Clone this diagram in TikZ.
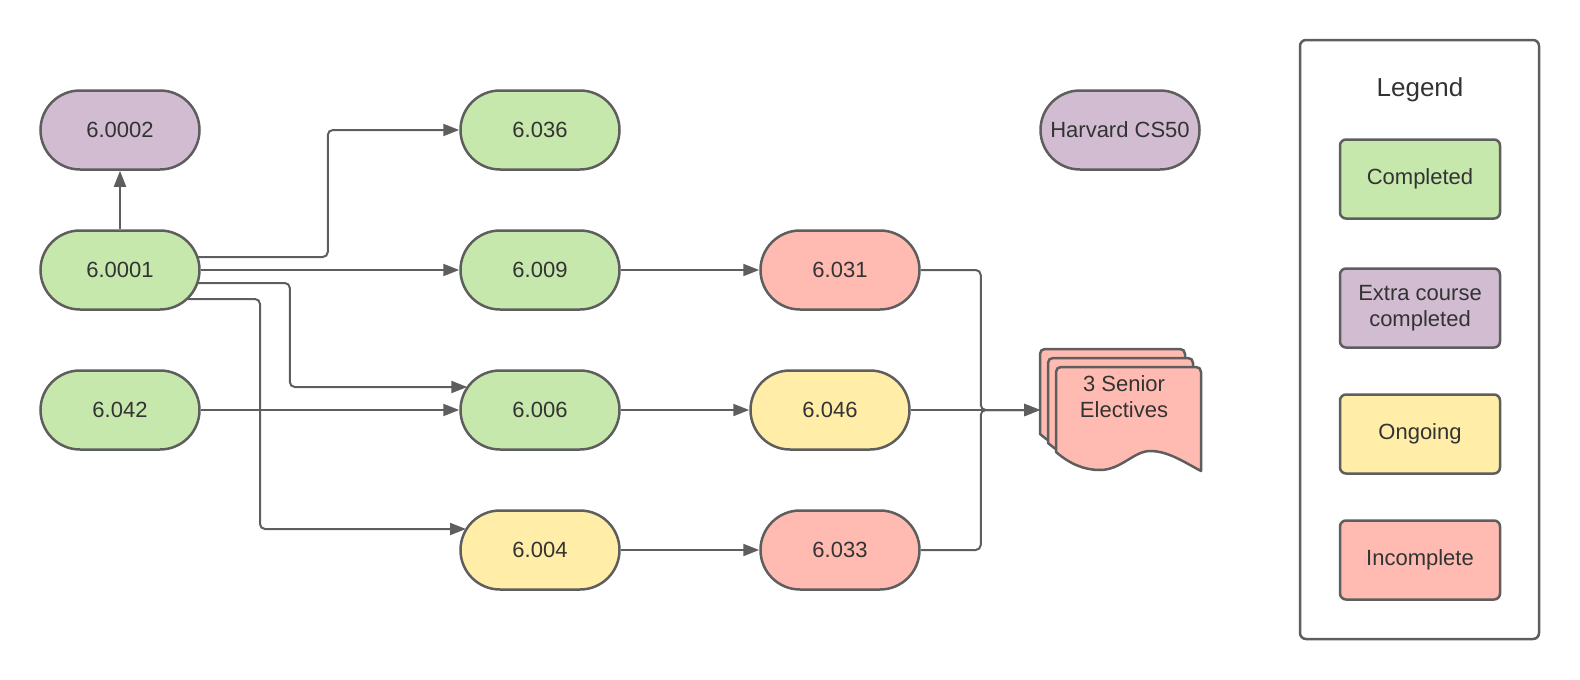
\documentclass[tikz,border=0pt]{standalone}
\usepackage{fontspec}
\setmainfont{Liberation Sans}
\usetikzlibrary{shapes.misc,arrows.meta,calc}
\definecolor{linec}{HTML}{5E5E5E}
\definecolor{txt}{HTML}{333333}
\definecolor{cgreen}{HTML}{C7E8AC}
\definecolor{cpurple}{HTML}{D1BCD2}
\definecolor{cyellow}{HTML}{FFEDA8}
\definecolor{cred}{HTML}{FFBBB1}
\newcommand\mynodefont{\fontsize{22}{26}\selectfont}
\newcommand\mytitlefont{\fontsize{26}{30}\selectfont}
\tikzset{
  course/.style={rounded rectangle, draw=linec, line width=2.5pt, minimum width=159pt, minimum height=79pt, inner sep=0pt, font=\mynodefont, text=txt},
  legbox/.style={rectangle, rounded corners=6pt, draw=linec, line width=2.5pt, minimum width=160pt, minimum height=79pt, inner sep=0pt, font=\mynodefont, text=txt, align=center},
  conn/.style={draw=linec, line width=2pt, rounded corners=5pt, -{Triangle[length=16pt,width=12pt]}},
  sheet/.style={fill=cred, draw=linec, line width=2.5pt, line join=round},
}
\begin{document}
\begin{tikzpicture}[x=1pt,y=-1pt]
\useasboundingbox (0,0) rectangle (1580,680);
% course nodes
\node[course, fill=cpurple] (n0002) at (120,130) {6.0002};
\node[course, fill=cgreen] (n0001) at (120,270) {6.0001};
\node[course, fill=cgreen] (n042) at (120,410) {6.042};
\node[course, fill=cgreen] (n036) at (540,130) {6.036};
\node[course, fill=cgreen] (n009) at (540,270) {6.009};
\node[course, fill=cgreen] (n006) at (540,410) {6.006};
\node[course, fill=cyellow] (n004) at (540,550) {6.004};
\node[course, fill=cred] (n031) at (840,270) {6.031};
\node[course, fill=cyellow] (n046) at (830,410) {6.046};
\node[course, fill=cred] (n033) at (840,550) {6.033};
\node[course, fill=cpurple] (ncs50) at (1120,130) {Harvard CS50};
% multi-document shape
\foreach \dx/\dy in {0/0, 8/9, 16/18}{
  \filldraw[sheet, shift={(1040+\dx,349+\dy)}]
    (0,85) -- (0,5) .. controls (0,2) and (2,0) .. (5,0) -- (140,0)
    .. controls (143,0) and (145,2) .. (145,5) -- (145,104)
    .. controls (128,95) and (112,84) .. (94,84)
    .. controls (78,84) and (65,103) .. (44,103)
    .. controls (28,103) and (14,97) .. (0,85) -- cycle;
}
\node[font=\mynodefont, text=txt, align=center, inner sep=0pt] (elec) at (1124,397) {3 Senior\\Electives};
\coordinate (elecin) at (1040,410);
% connectors
\draw[conn] (n0001.north) -- (n0002.south);
\draw[conn] ($(n0001.center)+(77.8,-13)$) -- ++(130,0) |- (n036.west);
\draw[conn] (n0001.east) -- (n009.west);
\draw[conn] ($(n0001.center)+(77.8,13)$) -- ++(92,0) |- ($(n006.center)+(-72.7,-23)$);
\draw[conn] (n042.east) -- (n006.west);
\draw[conn] ($(n0001.center)+(67.5,29)$) -- ++(72.5,0) |- ($(n004.center)+(-74,-21)$);
\draw[conn] (n009.east) -- (n031.west);
\draw[conn] (n006.east) -- (n046.west);
\draw[conn] (n004.east) -- (n033.west);
\draw[conn] (n031.east) -- ++(60,0) |- (elecin);
\draw[conn] (n046.east) -- (elecin);
\draw[conn] (n033.east) -- ++(60,0) |- (elecin);
% legend
\node[draw=linec, line width=2.5pt, rounded corners=6pt, minimum width=239pt, minimum height=599pt, inner sep=0pt] (legend) at (1419.5,339.5) {};
\node[font=\mytitlefont, text=txt] (legtitle) at (1420,90) {Legend};
\node[legbox, fill=cgreen] (lg1) at (1420,179) {Completed};
\node[legbox, fill=cpurple] (lg2) at (1420,308) {Extra course\\completed};
\node[legbox, fill=cyellow] (lg3) at (1420,434) {Ongoing};
\node[legbox, fill=cred] (lg4) at (1420,560) {Incomplete};
\end{tikzpicture}
\end{document}
